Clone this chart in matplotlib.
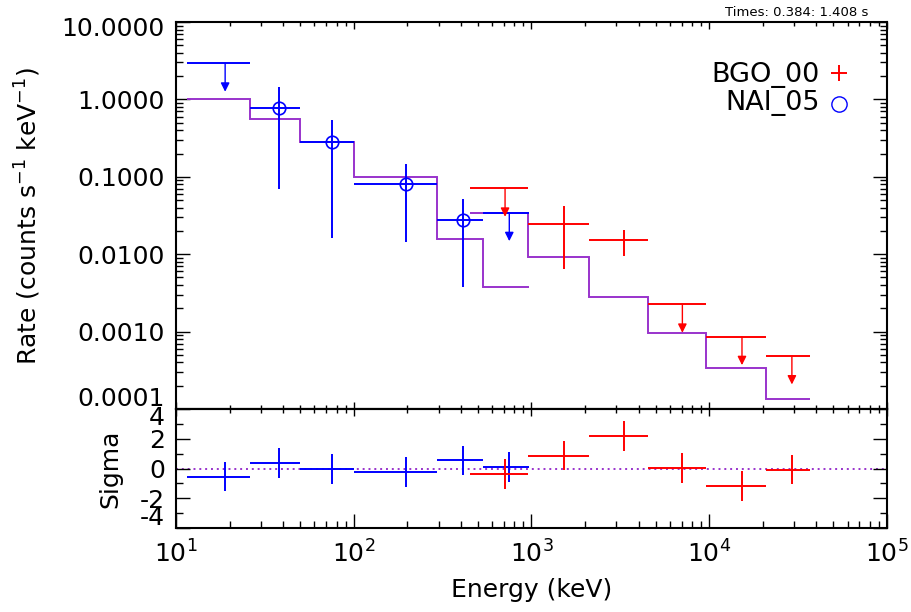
import numpy as np
import matplotlib
matplotlib.use("Agg")
import matplotlib.pyplot as plt
from matplotlib.ticker import FixedLocator, NullFormatter, LogLocator

plt.rcParams['font.family'] = ['DejaVu Sans']
plt.rcParams['mathtext.fontset'] = 'dejavusans'

nan = np.nan
# ---------------- data ----------------
nai_edges = [11.5, 26.2, 49.6, 100.6, 293, 532, 964]
nai_center = [18.9, 38.1, 75.4, 197, 414, 750]
nai_rate = [2.93, 0.78, 0.284, 0.0807, 0.0277, 0.0344]
nai_lo = [nan, 0.0695, 0.016, 0.0145, 0.0038, nan]
nai_hi = [nan, 1.46, 0.542, 0.145, 0.0512, nan]
nai_ul = [True, False, False, False, False, True]
nai_model = [1.0, 0.558, 0.284, 0.0984, 0.0157, 0.0038]
nai_sigma = [-0.54, 0.36, -0.02, -0.24, 0.54, 0.11]

bgo_edges = [451, 959, 2094, 4508, 9550, 20940, 37030]
bgo_center = [710, 1524, 3311, 7060, 15280, 29170]
bgo_rate = [0.071, 0.0245, 0.0152, 0.00225, 0.00086, 0.000484]
bgo_lo = [nan, 0.00644, 0.0095, nan, nan, nan]
bgo_hi = [nan, 0.042, 0.0206, nan, nan, nan]
bgo_ul = [True, False, False, True, True, True]
bgo_model = [0.0337, 0.00912, 0.0028, 0.00097, 0.000336, 0.000133]
bgo_sigma = [-0.36, 0.87, 2.17, 0.02, -1.19, -0.07]

rate_ticks = [1e-4, 1e-3, 1e-2, 1e-1, 1, 10]
rate_labels = ['0.0001', '0.0010', '0.0100', '0.1000', '1.0000', '10.0000']
sig_ticks = [-4, -2, 0, 2, 4]
sig_labels = ['-4', '-2', '0', '2', '4']

BLUE = '#0000ff'
RED = '#ff0000'
PURPLE = '#9933cc'
LW = 1.4
FS = 18

W, H = 912, 612
fig = plt.figure(figsize=(W / 100, H / 100), dpi=100)
L, R = 176, 887
T1, B1, B2 = 22, 409, 528
ax1 = fig.add_axes([L / W, 1 - B1 / H, (R - L) / W, (B1 - T1) / H])
ax2 = fig.add_axes([L / W, 1 - B2 / H, (R - L) / W, (B2 - B1) / H], sharex=ax1)

for ax in (ax1, ax2):
    for s in ax.spines.values():
        s.set_linewidth(1.5)

# ---------------- top panel ----------------
ax1.set_xscale('log')
ax1.set_yscale('log')
ax1.set_xlim(10, 1e5)
ax1.set_ylim(1e-4, 10)

ax1.stairs(nai_model, nai_edges, baseline=None, color=PURPLE, lw=LW, zorder=2)
ax1.stairs(bgo_model, bgo_edges, baseline=None, color=PURPLE, lw=LW, zorder=2)


def draw_det(ax, edges, center, rate, lo, hi, ul, color, marker):
    for i in range(len(center)):
        c, r = center[i], rate[i]
        e0, e1 = edges[i], edges[i + 1]
        if ul[i]:
            ax.hlines(r, e0, e1, color=color, lw=LW, zorder=3)
            ax.annotate('', xy=(c, r), xytext=(0, -20.5), textcoords='offset points',
                        arrowprops=dict(arrowstyle='<|-', color=color, lw=1.0,
                                        shrinkA=0, shrinkB=0, mutation_scale=13),
                        zorder=3)
        else:
            ax.errorbar([c], [r], xerr=[[c - e0], [e1 - c]],
                        yerr=[[r - lo[i]], [hi[i] - r]],
                        fmt=marker, color=color, mfc='none', mec=color,
                        ms=9, mew=1.2, elinewidth=LW, capsize=0, zorder=3)


draw_det(ax1, nai_edges, nai_center, nai_rate, nai_lo, nai_hi, nai_ul, BLUE, 'o')
draw_det(ax1, bgo_edges, bgo_center, bgo_rate, bgo_lo, bgo_hi, bgo_ul, RED, 'none')

ax1.yaxis.set_major_locator(FixedLocator(rate_ticks))
ax1.set_yticklabels([''] + rate_labels[1:-1] + [''])
ax1.yaxis.set_minor_locator(LogLocator(base=10, subs=np.arange(2, 10)))
ax1.yaxis.set_minor_formatter(NullFormatter())
ax1.xaxis.set_minor_formatter(NullFormatter())
ax1.tick_params(which='both', direction='in', top=True, right=True,
                labelbottom=False, labelsize=FS, pad=8)
ax1.tick_params(axis='x', which='major', length=5, width=1)
ax1.tick_params(axis='x', which='minor', length=2.8, width=1)
ax1.tick_params(axis='y', which='major', length=10, width=1)
ax1.tick_params(axis='y', which='minor', length=5, width=1)
# edge labels shifted inward (as in the original)
ax1.annotate(rate_labels[-1], xy=(0, 1), xycoords='axes fraction', xytext=(-8, -5),
             textcoords='offset points', ha='right', va='center', fontsize=FS)
ax1.annotate(rate_labels[0], xy=(0, 0), xycoords='axes fraction', xytext=(-8, 7),
             textcoords='offset points', ha='right', va='center', fontsize=FS)

# legend
ax1.text(0.9058, 0.845, 'BGO_00', transform=ax1.transAxes, ha='right',
         va='baseline', fontsize=19.5)
ax1.text(0.9058, 0.7726, 'NAI_05', transform=ax1.transAxes, ha='right',
         va='baseline', fontsize=19.5)
ax1.plot([0.9325], [0.867], marker='+', ms=12, mew=1.4, color=RED,
         transform=ax1.transAxes, ls='none')
ax1.plot([0.9325], [0.787], marker='o', ms=11, mew=1.0, mfc='none', mec=BLUE,
         transform=ax1.transAxes, ls='none')

# ---------------- bottom panel ----------------
ax2.set_ylim(-4, 4)
ax2.axhline(0, color=PURPLE, ls=(0, (1, 2)), lw=1.4, zorder=1)


def draw_sig(ax, edges, center, sig, color):
    for i in range(len(center)):
        c, s = center[i], sig[i]
        ax.errorbar([c], [s], xerr=[[c - edges[i]], [edges[i + 1] - c]], yerr=1,
                    fmt='none', ecolor=color, elinewidth=LW, capsize=0, zorder=3)


draw_sig(ax2, nai_edges, nai_center, nai_sigma, BLUE)
draw_sig(ax2, bgo_edges, bgo_center, bgo_sigma, RED)

ax2.yaxis.set_major_locator(FixedLocator(sig_ticks))
ax2.yaxis.set_minor_locator(FixedLocator([-3, -1, 1, 3]))
ax2.set_yticklabels([''] + sig_labels[1:-1] + [''])
ax2.xaxis.set_minor_formatter(NullFormatter())
ax2.tick_params(which='both', direction='in', right=True, top=False,
                labelsize=FS)
ax2.tick_params(axis='y', which='major', length=10, width=1, pad=8)
ax2.tick_params(axis='y', which='minor', length=5, width=1)
ax2.tick_params(axis='x', which='major', length=10, width=1, pad=9)
ax2.tick_params(axis='x', which='minor', length=5, width=1)
ax2.annotate(sig_labels[-1], xy=(0, 1), xycoords='axes fraction', xytext=(-8, -6.5),
             textcoords='offset points', ha='right', va='center', fontsize=FS)
ax2.annotate(sig_labels[0], xy=(0, 0), xycoords='axes fraction', xytext=(-8, 7),
             textcoords='offset points', ha='right', va='center', fontsize=FS)

sec = ax2.secondary_xaxis('top')
sec.tick_params(which='both', direction='in', labeltop=False)
sec.tick_params(which='major', length=5, width=1)
sec.tick_params(which='minor', length=2.8, width=1)
sec.xaxis.set_minor_formatter(NullFormatter())
sec.spines['top'].set_linewidth(1.5)

# ---------------- labels ----------------
fig.text(28 / W, 1 - 215.5 / H, r'Rate (counts s$^{-1}$ keV$^{-1}$)', rotation=90,
         ha='center', va='center', fontsize=FS)
fig.text(110 / W, 1 - 468.5 / H, 'Sigma', rotation=90, ha='center', va='center',
         fontsize=FS)
fig.text(531.5 / W, 1 - 590 / H, 'Energy (keV)', ha='center', va='center',
         fontsize=FS)
fig.text(868 / W, 1 - 12 / H, 'Times: 0.384: 1.408 s', ha='right', va='center',
         fontsize=9.5)

fig.savefig('out.png', dpi=100)
